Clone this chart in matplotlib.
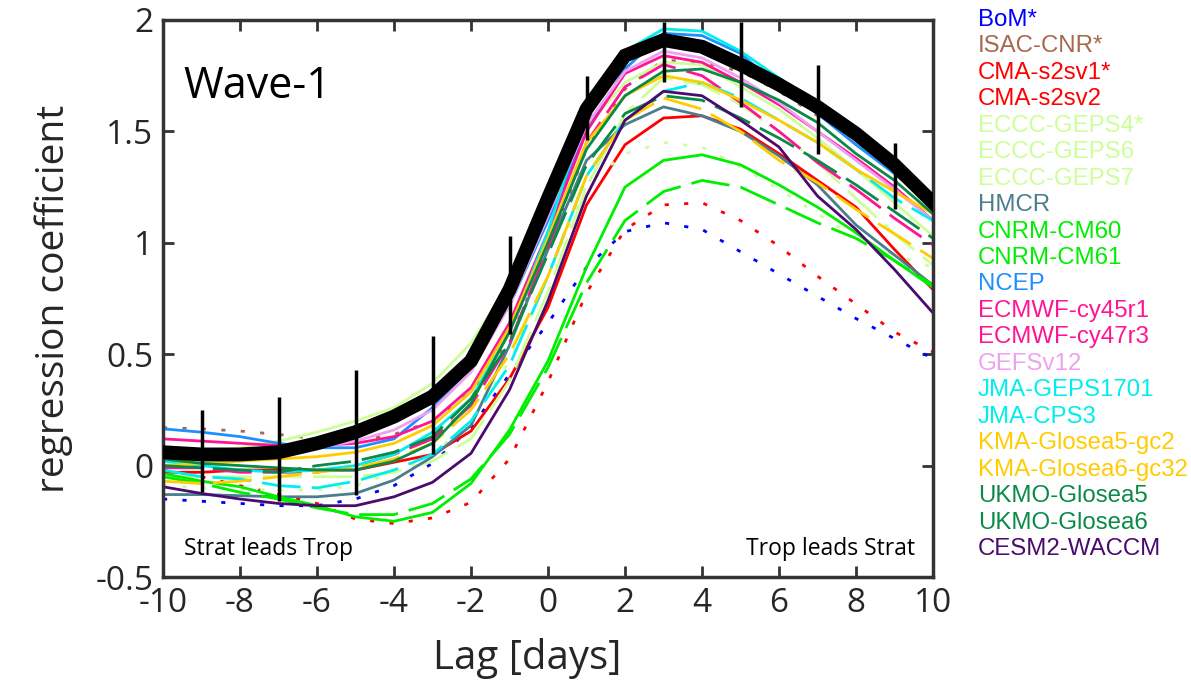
import numpy as np
import matplotlib
matplotlib.use("Agg")
import matplotlib.pyplot as plt
from matplotlib.ticker import FuncFormatter

plt.rcParams['axes.unicode_minus'] = False

# lag axis (days)
lags = np.arange(-10, 11)

# reanalysis (thick black) and its uncertainty at odd lags
obs = [0.06, 0.05, 0.05, 0.06, 0.10, 0.15, 0.22, 0.31, 0.47, 0.79, 1.20,
       1.60, 1.84, 1.91, 1.88, 1.80, 1.71, 1.61, 1.49, 1.35, 1.18]
bar_lags = [-9, -7, -5, -3, -1, 1, 3, 5, 7, 9]
bar_low = [-0.12, -0.16, -0.13, 0.05, 0.59, 1.46, 1.72, 1.61, 1.40, 1.15]
bar_high = [0.25, 0.31, 0.43, 0.58, 1.03, 1.75, 1.99, 1.99, 1.80, 1.45]

# models, values at lags -10 .. 10
bom = [-0.15, -0.16, -0.17, -0.18, -0.18, -0.15, -0.09, 0.01, 0.17, 0.41, 0.64,
       0.89, 1.05, 1.09, 1.06, 0.96, 0.86, 0.76, 0.66, 0.57, 0.48]
isac = [0.17, 0.165, 0.155, 0.14, 0.12, 0.11, 0.14, 0.20, 0.33, 0.56, 0.97,
        1.42, 1.69, 1.82, 1.81, 1.77, 1.68, 1.57, 1.46, 1.33, 1.21]
cma1 = [-0.02, -0.05, -0.09, -0.13, -0.17, -0.24, -0.26, -0.235, -0.165, 0.03, 0.375,
        0.775, 1.06, 1.17, 1.18, 1.10, 0.985, 0.85, 0.725, 0.60, 0.51]
cma2 = [-0.03, -0.03, -0.02, -0.02, -0.02, -0.02, 0.015, 0.05, 0.155, 0.39, 0.71,
        1.17, 1.44, 1.56, 1.57, 1.51, 1.40, 1.28, 1.16, 0.97, 0.79]
geps4 = [-0.09, -0.10, -0.105, -0.11, -0.11, -0.09, -0.03, 0.05, 0.20, 0.47, 0.85,
         1.26, 1.40, 1.45, 1.43, 1.34, 1.24, 1.13, 1.02, 0.945, 0.89]
geps6 = [0.05, 0.06, 0.08, 0.11, 0.15, 0.20, 0.26, 0.37, 0.55, 0.82, 1.18,
         1.52, 1.72, 1.81, 1.80, 1.70, 1.60, 1.47, 1.33, 1.18, 1.03]
geps7 = [-0.05, -0.05, -0.05, -0.05, -0.05, -0.05, -0.03, 0.02, 0.12, 0.38, 0.78,
         1.25, 1.58, 1.74, 1.71, 1.62, 1.50, 1.36, 1.20, 1.04, 0.90]
hmcr = [-0.13, -0.13, -0.135, -0.14, -0.14, -0.125, -0.065, 0.04, 0.18, 0.54, 0.97,
        1.37, 1.53, 1.61, 1.57, 1.50, 1.39, 1.26, 1.08, 0.945, 0.81]
cm60 = [-0.035, -0.07, -0.095, -0.14, -0.18, -0.23, -0.25, -0.21, -0.08, 0.16, 0.47,
        0.89, 1.25, 1.37, 1.395, 1.35, 1.26, 1.16, 1.045, 0.92, 0.80]
cm61 = [-0.05, -0.08, -0.12, -0.15, -0.19, -0.22, -0.22, -0.17, -0.06, 0.14, 0.44,
        0.82, 1.10, 1.23, 1.28, 1.25, 1.17, 1.09, 1.02, 0.92, 0.81]
ncep = [0.165, 0.15, 0.13, 0.10, 0.08, 0.08, 0.12, 0.26, 0.44, 0.72, 1.10,
        1.50, 1.78, 1.94, 1.93, 1.85, 1.70, 1.58, 1.44, 1.31, 1.17]
ec45 = [0.12, 0.11, 0.10, 0.09, 0.09, 0.10, 0.13, 0.20, 0.35, 0.64, 1.05,
        1.50, 1.76, 1.84, 1.81, 1.72, 1.62, 1.50, 1.38, 1.25, 1.10]
ec47 = [-0.01, -0.01, -0.03, -0.03, -0.03, 0.00, 0.05, 0.12, 0.27, 0.55, 0.98,
        1.45, 1.70, 1.80, 1.75, 1.63, 1.50, 1.36, 1.24, 1.11, 0.99]
gefs = [0.08, 0.07, 0.07, 0.07, 0.08, 0.11, 0.16, 0.25, 0.42, 0.72, 1.12,
        1.53, 1.77, 1.86, 1.83, 1.74, 1.63, 1.50, 1.37, 1.24, 1.10]
jma1701 = [0.02, 0.00, -0.02, -0.03, -0.02, 0.00, 0.05, 0.15, 0.30, 0.60, 1.05,
           1.60, 1.86, 1.96, 1.95, 1.86, 1.74, 1.60, 1.46, 1.32, 1.16]
cps3 = [-0.02, -0.05, -0.06, -0.09, -0.10, -0.07, -0.02, 0.05, 0.20, 0.45, 0.85,
        1.30, 1.55, 1.68, 1.72, 1.65, 1.55, 1.45, 1.33, 1.20, 1.10]
gc2 = [0.00, 0.01, 0.02, 0.03, 0.04, 0.06, 0.10, 0.18, 0.33, 0.62, 1.02,
       1.45, 1.66, 1.75, 1.72, 1.64, 1.55, 1.45, 1.33, 1.23, 1.13]
gc32 = [-0.07, -0.08, -0.07, -0.05, -0.03, -0.01, 0.03, 0.10, 0.25, 0.50, 0.85,
        1.30, 1.55, 1.65, 1.60, 1.50, 1.37, 1.27, 1.15, 1.04, 0.93]
uk5 = [0.03, 0.01, 0.00, -0.01, -0.02, -0.02, 0.02, 0.10, 0.28, 0.60, 1.00,
       1.42, 1.66, 1.77, 1.78, 1.72, 1.64, 1.54, 1.40, 1.28, 1.13]
uk6 = [0.00, -0.01, -0.02, -0.03, 0.00, 0.02, 0.06, 0.13, 0.30, 0.55, 0.95,
       1.35, 1.58, 1.66, 1.64, 1.56, 1.47, 1.37, 1.26, 1.14, 1.02]
cesm = [-0.095, -0.125, -0.15, -0.17, -0.18, -0.18, -0.14, -0.075, 0.055, 0.34, 0.74,
        1.21, 1.55, 1.68, 1.66, 1.55, 1.43, 1.21, 1.06, 0.88, 0.685]

names = ['BoM*', 'ISAC-CNR*', 'CMA-s2sv1*', 'CMA-s2sv2', 'ECCC-GEPS4*', 'ECCC-GEPS6',
         'ECCC-GEPS7', 'HMCR', 'CNRM-CM60', 'CNRM-CM61', 'NCEP', 'ECMWF-cy45r1',
         'ECMWF-cy47r3', 'GEFSv12', 'JMA-GEPS1701', 'JMA-CPS3', 'KMA-Glosea5-gc2',
         'KMA-Glosea6-gc32', 'UKMO-Glosea5', 'UKMO-Glosea6', 'CESM2-WACCM']
series = [bom, isac, cma1, cma2, geps4, geps6, geps7, hmcr, cm60, cm61, ncep, ec45,
          ec47, gefs, jma1701, cps3, gc2, gc32, uk5, uk6, cesm]

colors = ['#0000ff', '#a5694f', '#ff0000', '#ff0000', '#ccff99', '#ccff99', '#ccff99',
          '#4a7d8e', '#00ee00', '#00ee00', '#1e8fff', '#ff1493', '#ff1493', '#f0a0f0',
          '#00eeee', '#00eeee', '#ffcc00', '#ffcc00', '#0a8a48', '#0a8a48', '#4b0a6e']
DOT, DASH, SOLID = (0, (1.5, 5.5)), (0, (14, 4)), '-'
styles = [DOT, DOT, DOT, SOLID, DOT, SOLID, DASH, SOLID, SOLID, DASH, SOLID, SOLID,
          DASH, SOLID, SOLID, DASH, SOLID, DASH, SOLID, DASH, SOLID]

fig = plt.figure(figsize=(11.91, 6.94), dpi=100)
ax = fig.add_axes([163 / 1191, 1 - 577 / 694, 770 / 1191, 557 / 694])

for y, c, ls in zip(series, colors, styles):
    ax.plot(lags, y, color=c, lw=2.0, ls=ls, solid_capstyle='butt', dash_capstyle='butt')

ax.plot(lags, obs, color='black', lw=10, solid_joinstyle='miter', zorder=5)
ax.vlines(bar_lags, bar_low, bar_high, color='black', lw=2.5, zorder=6)

ax.set_xlim(-10, 10)
ax.set_ylim(-0.5, 2)
ax.set_xticks(np.arange(-10, 11, 2))
ax.set_yticks(np.arange(-0.5, 2.01, 0.5))
ax.yaxis.set_major_formatter(FuncFormatter(lambda v, p: '%g' % v))
ax.tick_params(direction='in', length=8, width=2, color='#333333', top=True, right=True,
               labelsize=24, labelcolor='#262626', pad=7)
for lab in ax.get_xticklabels() + ax.get_yticklabels():
    lab.set_family('Open Sans')
for sp in ax.spines.values():
    sp.set_linewidth(2.5)
    sp.set_color('#333333')

ax.set_xlabel('Lag [days]', fontsize=29, family='Open Sans', color='#262626', labelpad=12)
ax.xaxis.set_label_coords(0.473, -0.11)
ax.set_ylabel('regression coefficient', fontsize=28, family='Open Sans', color='#262626',
              labelpad=16)

ax.text(0.027, 0.86, 'Wave-1', transform=ax.transAxes, fontsize=31, family='Open Sans')
ax.text(0.027, 0.04, 'Strat leads Trop', transform=ax.transAxes, fontsize=16.5,
        family='Open Sans')
ax.text(0.976, 0.04, 'Trop leads Strat', transform=ax.transAxes, fontsize=16.5,
        family='Open Sans', ha='right')

# coloured text legend on the right
for i, (nm, c) in enumerate(zip(names, colors)):
    fig.text(978 / 1191, 1 - (20 + i * 26.45) / 694, nm, color=c, fontsize=17.3,
             family='Liberation Sans', va='center', ha='left')

fig.savefig('out.png', dpi=100)
